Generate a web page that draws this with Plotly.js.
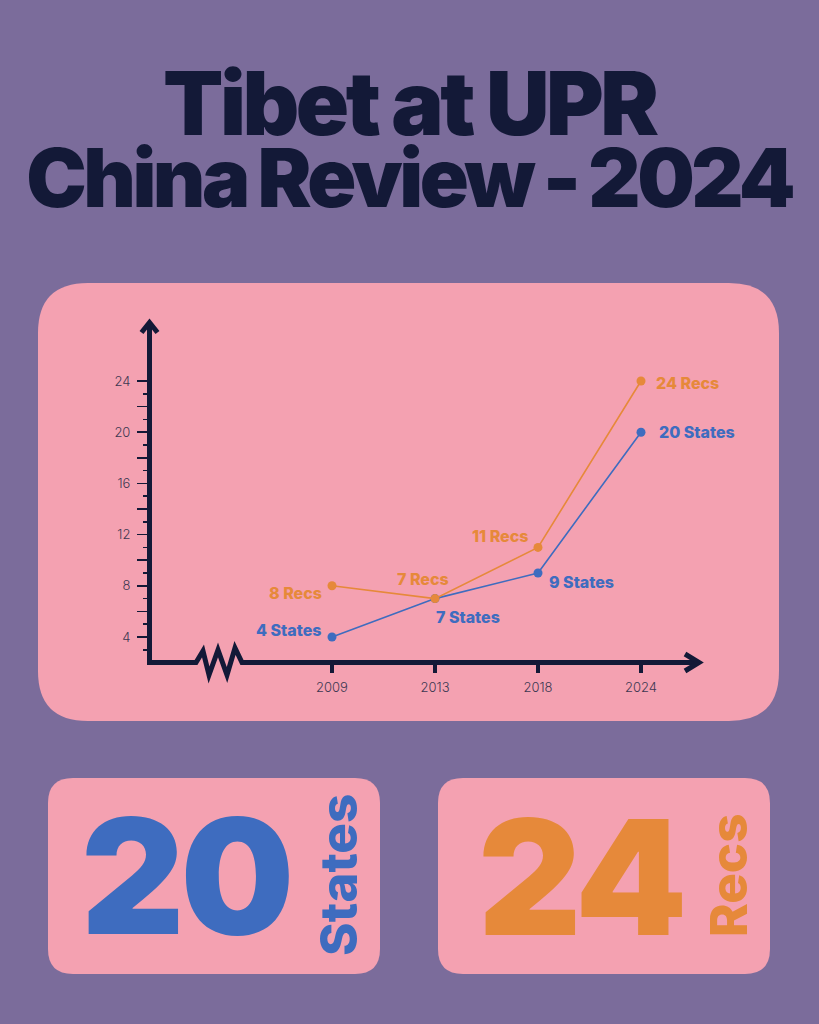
<!DOCTYPE html>
<html>
<head>
<meta charset="utf-8">
<script src="https://cdn.plot.ly/plotly-3.0.1.min.js"></script>
<style>
  html, body { margin: 0; padding: 0; background: #7b6c9b; }
  #chart { width: 819px; height: 1024px; }
  .annotation[data-index="8"] text { letter-spacing: -3.5px; }
  .annotation[data-index="9"] text { letter-spacing: -3.5px; word-spacing: -2px; }
  .annotation[data-index="10"] text, .annotation[data-index="12"] text { letter-spacing: -4px; }
</style>
</head>
<body>
<div id="chart"></div>
<script>
// ---------------- DATA ----------------
const years = ['2009', '2013', '2018', '2024'];
const statesValues = [4, 7, 9, 20];
const recsValues = [8, 7, 11, 24];
const statesUnit = 'States';
const recsUnit = 'Recs';
const yTickValues = [4, 6, 8, 10, 12, 14, 16, 18, 20, 22, 24];
const yTickLabels = ['4', '', '8', '', '12', '', '16', '', '20', '', '24'];
const yMinorTickValues = [3, 5, 7, 9, 11, 13, 15, 17, 19, 21, 23];
const titleLines = ['Tibet at UPR', 'China Review - 2024'];

// ---------------- STYLE ----------------
const W = 819, H = 1024;
const BG = '#7b6c9b', PINK = '#f4a1b1', NAVY = '#131937';
const BLUE = '#3e6cbf', ORANGE = '#e6893a', TICKTXT = '#3d3852';
const FONT = 'Inter, "Open Sans", sans-serif';

const fx = x => x / W;
const fy = y => 1 - y / H;
function pathFrom(cmds) {
  return cmds.map(c => {
    if (c[0] === 'Z') return 'Z';
    if (c[0] === 'Q') return `Q${fx(c[1])},${fy(c[2])} ${fx(c[3])},${fy(c[4])}`;
    return `${c[0]}${fx(c[1])},${fy(c[2])}`;
  }).join(' ');
}
function rrect(x0, y0, x1, y1, r) {
  return pathFrom([
    ['M', x0 + r, y0], ['L', x1 - r, y0], ['Q', x1, y0, x1, y0 + r],
    ['L', x1, y1 - r], ['Q', x1, y1, x1 - r, y1], ['L', x0 + r, y1],
    ['Q', x0, y1, x0, y1 - r], ['L', x0, y0 + r], ['Q', x0, y0, x0 + r, y0], ['Z']
  ]);
}

const xIdx = years.map((_, i) => i);

const traces = [
  {
    x: xIdx, y: statesValues, type: 'scatter', mode: 'lines+markers',
    line: { color: BLUE, width: 1.6 }, marker: { color: BLUE, size: 9 },
    hoverinfo: 'skip', showlegend: false
  },
  {
    x: xIdx, y: recsValues, type: 'scatter', mode: 'lines+markers',
    line: { color: ORANGE, width: 1.6 }, marker: { color: ORANGE, size: 9 },
    hoverinfo: 'skip', showlegend: false
  }
];

// label placement (style only)
const statesLabelPos = [
  { xanchor: 'right', xshift: -9, yshift: 7 },
  { xanchor: 'left', xshift: -1, yshift: -18 },
  { xanchor: 'left', xshift: 9, yshift: -9 },
  { xanchor: 'left', xshift: 16, yshift: 0 }
];
const recsLabelPos = [
  { xanchor: 'right', xshift: -8, yshift: -7 },
  { xanchor: 'center', xshift: -12, yshift: 20 },
  { xanchor: 'right', xshift: -8, yshift: 11 },
  { xanchor: 'left', xshift: 13, yshift: -2 }
];

const annotations = [];
function addPointLabels(vals, unit, color, pos) {
  vals.forEach((v, i) => {
    annotations.push({
      x: xIdx[i], y: v, xref: 'x', yref: 'y', showarrow: false,
      text: `${v} ${unit}`, xanchor: pos[i].xanchor, yanchor: 'middle',
      xshift: pos[i].xshift, yshift: pos[i].yshift,
      font: { family: FONT, size: 16, color: color, weight: 800 }
    });
  });
}
addPointLabels(statesValues, statesUnit, BLUE, statesLabelPos);
addPointLabels(recsValues, recsUnit, ORANGE, recsLabelPos);

// Title (indices 8, 9)
annotations.push({
  xref: 'paper', yref: 'paper', x: fx(409), y: fy(103), xanchor: 'center', yanchor: 'middle',
  text: titleLines[0], showarrow: false,
  font: { family: FONT, size: 88, color: NAVY, weight: 900 }
});
annotations.push({
  xref: 'paper', yref: 'paper', x: fx(409), y: fy(178), xanchor: 'center', yanchor: 'middle',
  text: titleLines[1], showarrow: false,
  font: { family: FONT, size: 81, color: NAVY, weight: 900 }
});

// Big summary numbers (last values) (indices 10-13)
const lastStates = statesValues[statesValues.length - 1];
const lastRecs = recsValues[recsValues.length - 1];
annotations.push({
  xref: 'paper', yref: 'paper', x: fx(185), y: fy(876), xanchor: 'center', yanchor: 'middle',
  text: String(lastStates), showarrow: false,
  font: { family: FONT, size: 160, color: BLUE, weight: 900 }
});
annotations.push({
  xref: 'paper', yref: 'paper', x: fx(338), y: fy(875), xanchor: 'center', yanchor: 'middle',
  text: statesUnit, showarrow: false, textangle: -90,
  font: { family: FONT, size: 51, color: BLUE, weight: 800 }
});
annotations.push({
  xref: 'paper', yref: 'paper', x: fx(580), y: fy(877), xanchor: 'center', yanchor: 'middle',
  text: String(lastRecs), showarrow: false,
  font: { family: FONT, size: 160, color: ORANGE, weight: 900 }
});
annotations.push({
  xref: 'paper', yref: 'paper', x: fx(728), y: fy(876), xanchor: 'center', yanchor: 'middle',
  text: recsUnit, showarrow: false, textangle: -90,
  font: { family: FONT, size: 51, color: ORANGE, weight: 800 }
});

const shapes = [
  { type: 'path', xref: 'paper', yref: 'paper', layer: 'below', path: rrect(38, 283, 779, 721, 50),
    fillcolor: PINK, line: { width: 0 } },
  { type: 'path', xref: 'paper', yref: 'paper', layer: 'below', path: rrect(48, 778, 380, 974, 25),
    fillcolor: PINK, line: { width: 0 } },
  { type: 'path', xref: 'paper', yref: 'paper', layer: 'below', path: rrect(438, 778, 770, 974, 25),
    fillcolor: PINK, line: { width: 0 } },
  { type: 'path', xref: 'paper', yref: 'paper', path: pathFrom([['M', 149.5, 662.5], ['L', 149.5, 324]]),
    line: { color: NAVY, width: 5 } },
  { type: 'path', xref: 'paper', yref: 'paper', path: pathFrom([['M', 141.5, 332.5], ['L', 149.5, 322.5], ['L', 157.5, 332.5]]),
    line: { color: NAVY, width: 5 } },
  { type: 'path', xref: 'paper', yref: 'paper', path: pathFrom([
      ['M', 147, 662.5], ['L', 196, 662.5], ['L', 203, 651], ['L', 209, 675], ['L', 218, 650],
      ['L', 227, 675], ['L', 235, 648], ['L', 242, 662.5], ['L', 698, 662.5]]),
    line: { color: NAVY, width: 5 } },
  { type: 'path', xref: 'paper', yref: 'paper', path: pathFrom([['M', 685, 654], ['L', 699, 662.5], ['L', 685, 671]]),
    line: { color: NAVY, width: 5 } }
];

const layout = {
  width: W, height: H,
  margin: { l: 0, r: 0, t: 0, b: 0 },
  paper_bgcolor: BG, plot_bgcolor: 'rgba(0,0,0,0)',
  showlegend: false,
  xaxis: {
    domain: [fx(149), fx(700)], range: [-1.7767, 3.5728], type: 'linear',
    tickmode: 'array', tickvals: xIdx, ticktext: years,
    ticks: 'outside', ticklen: 9, tickwidth: 4, tickcolor: NAVY,
    showline: false, showgrid: false, zeroline: false, fixedrange: true,
    tickfont: { family: FONT, size: 13, color: TICKTXT, weight: 300 }, ticklabelstandoff: 4
  },
  yaxis: {
    domain: [fy(662.5), fy(325)], range: [2.008, 28.375], type: 'linear',
    tickmode: 'array', tickvals: yTickValues, ticktext: yTickLabels,
    ticks: 'outside', ticklen: 11, tickwidth: 1.5, tickcolor: NAVY,
    minor: { tickmode: 'array', tickvals: yMinorTickValues, ticks: 'outside', ticklen: 5, tickwidth: 1.5, tickcolor: NAVY, showgrid: false },
    showline: false, showgrid: false, zeroline: false, fixedrange: true,
    tickfont: { family: FONT, size: 13, color: TICKTXT, weight: 300 }, ticklabelstandoff: 4
  },
  shapes: shapes,
  annotations: annotations
};

Plotly.newPlot('chart', traces, layout, { staticPlot: true, displayModeBar: false });
</script>
</body>
</html>
